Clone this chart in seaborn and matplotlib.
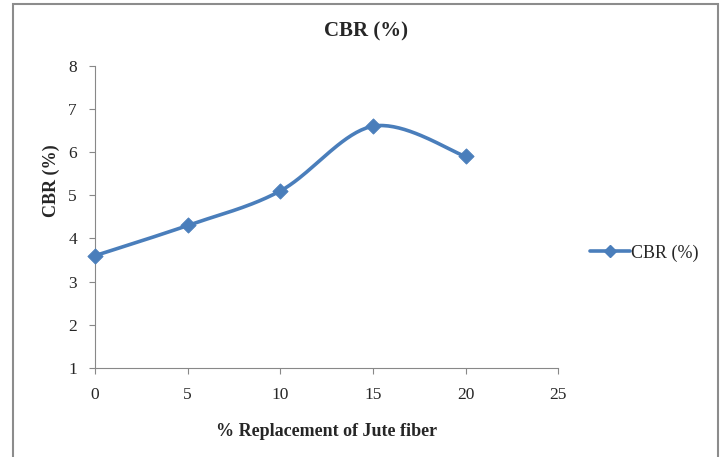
import numpy as np
import pandas as pd
import matplotlib
matplotlib.use("Agg")
import matplotlib.pyplot as plt
import seaborn as sns
from matplotlib.lines import Line2D

# Data
replacement = [0, 5, 10, 15, 20]
cbr = [3.6, 4.3, 5.1, 6.6, 5.9]
series_name = "CBR (%)"
title = "CBR (%)"
xlabel = "% Replacement of Jute fiber"
ylabel = "CBR (%)"
xticks = [0, 5, 10, 15, 20, 25]
yticks = [1, 2, 3, 4, 5, 6, 7, 8]

sns.set_theme(style="white")
plt.rcParams['font.family'] = ['Liberation Serif', 'DejaVu Serif']

color = "#4A7EBB"

fig = plt.figure(figsize=(7.25, 4.57), dpi=100)
ax = fig.add_axes([0.131, 0.195, 0.639, 0.661])


def smooth(xs, ys, n=40):
    # Excel-like smoothed line (Catmull-Rom Bezier), rendering only
    xs = np.asarray(xs, float)
    ys = np.asarray(ys, float)
    ox, oy = [], []
    m = len(xs)
    for i in range(m - 1):
        i0 = max(i - 1, 0)
        i3 = min(i + 2, m - 1)
        p0 = np.array([xs[i], ys[i]])
        p3 = np.array([xs[i + 1], ys[i + 1]])
        c1 = p0 + (np.array([xs[i + 1], ys[i + 1]]) - np.array([xs[i0], ys[i0]])) / 6
        c2 = p3 - (np.array([xs[i3], ys[i3]]) - np.array([xs[i], ys[i]])) / 6
        t = np.linspace(0, 1, n)[:, None]
        pts = ((1 - t) ** 3) * p0 + 3 * ((1 - t) ** 2) * t * c1 + 3 * (1 - t) * t ** 2 * c2 + t ** 3 * p3
        ox.extend(pts[:, 0]); oy.extend(pts[:, 1])
    return np.array(ox), np.array(oy)

sx, sy = smooth(replacement, cbr)
curve = pd.DataFrame({"x": sx, "y": sy})
pts = pd.DataFrame({"x": replacement, "y": cbr})

sns.lineplot(data=curve, x="x", y="y", sort=False, ax=ax, color=color, linewidth=2.6, legend=False)
sns.scatterplot(data=pts, x="x", y="y", ax=ax, color=color, marker="D", s=60, edgecolor=color,
                zorder=5, legend=False, clip_on=False)

ax.set_xlim(0, 25)
ax.set_ylim(1, 8)
ax.set_xticks(xticks)
ax.set_yticks(yticks)
ax.tick_params(axis='both', which='both', direction='out', length=4, width=0.8, color="#888888",
               labelsize=12.5, left=True, bottom=True)
ax.tick_params(axis='x', pad=10)
ax.tick_params(axis='y', pad=9)
for s in ["top", "right"]:
    ax.spines[s].set_visible(False)
for s in ["left", "bottom"]:
    ax.spines[s].set_color("#888888")
    ax.spines[s].set_linewidth(0.8)

ax.set_xlabel(xlabel, fontsize=13, fontweight="bold", labelpad=14)
ax.set_ylabel(ylabel, fontsize=13, fontweight="bold")
ax.yaxis.set_label_coords(-0.095, 0.62)
ax.yaxis.label.set_va("center")
fig.text(0.505, 0.932, title, fontsize=15, fontweight="bold", ha="center", va="center")

# legend
h = Line2D([0], [0], color=color, linewidth=2.6, marker="D", markersize=6.5)
fig.legend([h], [series_name], loc="center left", bbox_to_anchor=(0.797, 0.446), frameon=False,
           fontsize=13, handlelength=2.2, handletextpad=0.05, borderpad=0.2)

# outer border
border = plt.Rectangle((0.018, -0.05), 0.972, 1.041, transform=fig.transFigure, fill=False,
                       edgecolor="#8c8c8c", linewidth=1.5)
fig.patches.append(border)

fig.savefig("out.png", dpi=100)
